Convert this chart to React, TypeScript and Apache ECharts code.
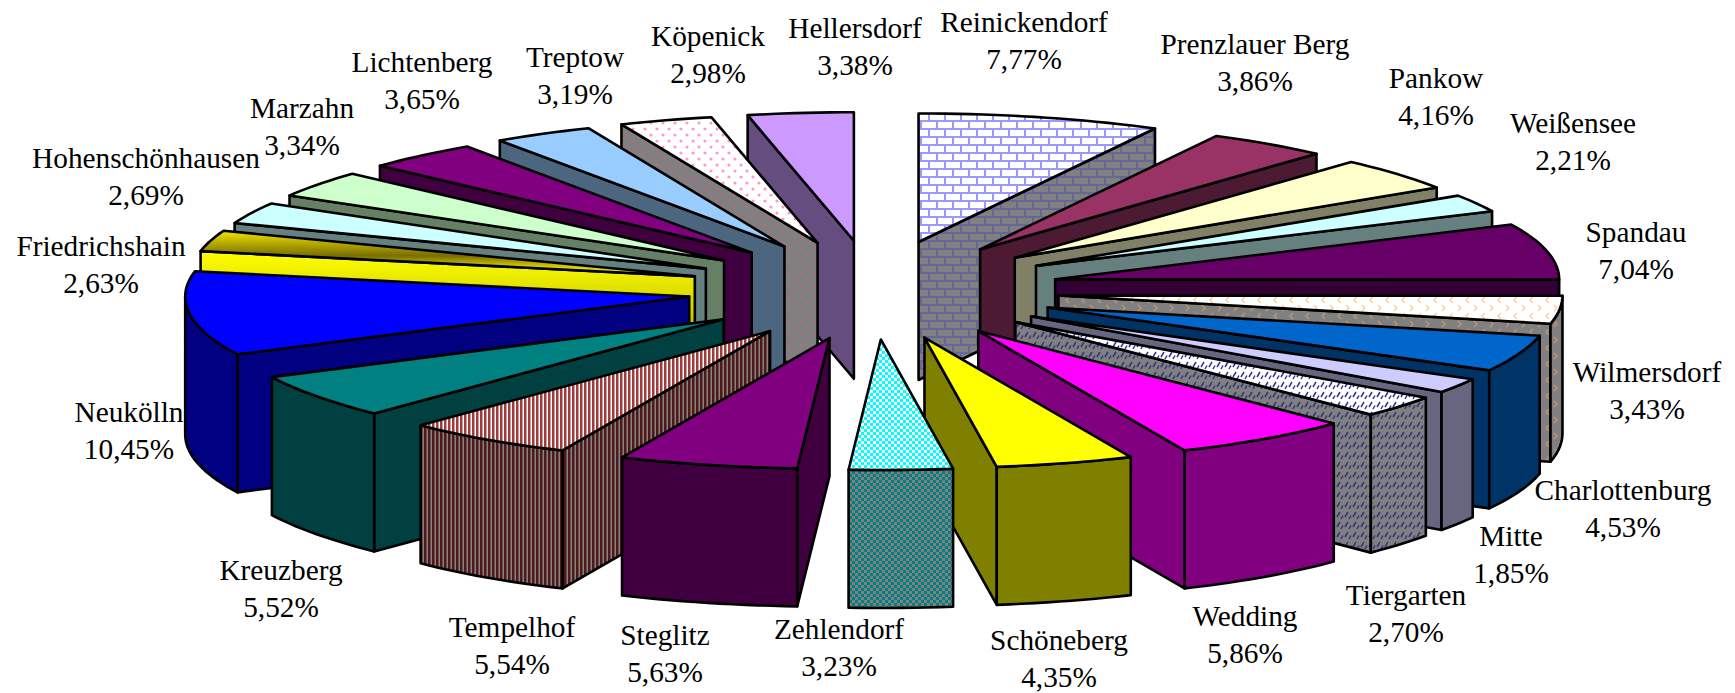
import React, { useEffect, useRef } from "react";
import * as echarts from "echarts";

const categories = [
  "Reinickendorf", "Prenzlauer Berg", "Pankow", "Weißensee", "Spandau", "Wilmersdorf",
  "Charlottenburg", "Mitte", "Tiergarten", "Wedding", "Schöneberg", "Zehlendorf",
  "Steglitz", "Tempelhof", "Kreuzberg", "Neukölln", "Friedrichshain", "Hohenschönhausen",
  "Marzahn", "Lichtenberg", "Treptow", "Köpenick", "Hellersdorf",
];
const shares = [
  7.77, 3.86, 4.16, 2.21, 7.04, 3.43, 4.53, 1.85, 2.7, 5.86, 4.35, 3.23,
  5.63, 5.54, 5.52, 10.45, 2.63, 2.69, 3.34, 3.65, 3.19, 2.98, 3.38,
];
const topFills = [
  "brick", "#993366", "#ffffcc", "#ccffff", "#660066", "chevron", "#0066cc", "#ccccff",
  "dash", "#ff00ff", "#ffff00", "checker", "#800080", "stripe", "#008080", "#0000ff",
  "goldTop", "#ccffff", "#ccffcc", "#800080", "#99ccff", "dots", "#cc99ff",
];
const wallFills = [
  "brickWall", "#4d1a33", "#808066", "#668080", "#330033", "chevronWall", "#003366", "#666680",
  "dashWall", "#800080", "#808000", "checkerWall", "#400040", "stripeWall", "#004040", "#000080",
  "goldWall", "#668080", "#668066", "#400040", "#4d6680", "dotsWall", "#664d80",
];
// label block centres, in page pixels
const labelX = [
  1024, 1255, 1436, 1573, 1636, 1647, 1623, 1511, 1406, 1245, 1059, 839,
  665, 512, 281, 129, 101, 146, 302, 422, 575, 708, 855,
];
const labelY = [
  40, 62, 96, 141, 250, 390, 508, 554, 613, 634, 658, 647,
  653, 645, 588, 430, 264, 176, 126, 80, 75, 54, 46,
];

const CX = 873.6, CY = 290, EX = 186, EY = 49.5, RX = 504, DEPTH = 138;
const RY_BACK = 128.5, RY_FRONT = 130.5, FRONT_SPREAD = 0.025;
const STROKE = 2.6;
const rad = Math.PI / 180;

function tile(w: number, h: number, bg: string, draw: (c: CanvasRenderingContext2D) => void) {
  const cv = document.createElement("canvas");
  cv.width = w;
  cv.height = h;
  const c = cv.getContext("2d")!;
  c.fillStyle = bg;
  c.fillRect(0, 0, w, h);
  draw(c);
  return { image: cv, repeat: "repeat" };
}
function brick(bg: string, fg: string) {
  return tile(16, 16, bg, (c) => {
    c.fillStyle = fg;
    c.fillRect(0, 0, 16, 2);
    c.fillRect(0, 8, 16, 2);
    c.fillRect(0, 0, 2, 8);
    c.fillRect(8, 8, 2, 8);
  });
}
function chevron(bg: string, fg: string) {
  return tile(16, 16, bg, (c) => {
    c.strokeStyle = fg;
    c.lineWidth = 1.4;
    c.beginPath();
    c.moveTo(2, 1); c.lineTo(5, 4); c.lineTo(2, 7);
    c.moveTo(13, 9); c.lineTo(10, 12); c.lineTo(13, 15);
    c.stroke();
  });
}
function dash(bg: string, fg: string) {
  return tile(8, 10, bg, (c) => {
    c.strokeStyle = fg;
    c.lineWidth = 1.5;
    c.beginPath();
    c.moveTo(1, 7); c.lineTo(4, 2);
    c.moveTo(5, 9); c.lineTo(7, 5.5);
    c.stroke();
  });
}
function checker(bg: string, fg: string) {
  return tile(6, 6, bg, (c) => {
    c.fillStyle = fg;
    c.fillRect(0, 0, 3, 3);
    c.fillRect(3, 3, 3, 3);
  });
}
function stripe(bg: string, fg: string) {
  return tile(4, 4, bg, (c) => {
    c.fillStyle = fg;
    c.fillRect(0, 0, 2.5, 4);
  });
}
function dots(bg: string, fg: string) {
  return tile(12, 12, bg, (c) => {
    c.fillStyle = fg;
    c.beginPath();
    c.arc(3, 3, 1.6, 0, 7);
    c.arc(9, 9, 1.6, 0, 7);
    c.fill();
  });
}
function buildFills(): Record<string, any> {
  return {
    brick: brick("#ffffff", "#9999ff"),
    brickWall: brick("#808080", "#666699"),
    chevron: chevron("#ffffff", "#ffcc99"),
    chevronWall: chevron("#808080", "#c09570"),
    dash: dash("#ffffff", "#333399"),
    dashWall: dash("#808080", "#333380"),
    checker: checker("#00ffff", "#ffffff"),
    checkerWall: checker("#008080", "#808080"),
    stripe: stripe("#ffffff", "#a03c3c"),
    stripeWall: stripe("#8a8080", "#4d1a1a"),
    dots: dots("#ffffff", "#ff99cc"),
    dotsWall: dots("#808080", "#b06a8c"),
    goldTop: new echarts.graphic.LinearGradient(0, 0, 0, 1, [
      { offset: 0, color: "#f0e600" },
      { offset: 0.55, color: "#7a6e00" },
      { offset: 0.8, color: "#d8d000" },
      { offset: 1, color: "#ffff00" },
    ]),
    goldWall: new echarts.graphic.LinearGradient(0, 0, 0, 1, [
      { offset: 0, color: "#ffff00" },
      { offset: 1, color: "#808000" },
    ]),
  };
}

export default function App() {
  const ref = useRef<HTMLDivElement>(null);
  useEffect(() => {
    const chart = echarts.init(ref.current!, undefined, { renderer: "svg" });
    const fills = buildFills();
    const fillOf = (k: string) => fills[k] ?? k;
    const total = shares.reduce((s, v) => s + v, 0);

    // slice start / end angles, clockwise from 12 o'clock
    let run = 0;
    const slices = shares.map((v, i) => {
      const a = (run / total) * 360;
      run += v;
      const b = (run / total) * 360;
      return { i, a, b, mid: (a + b) / 2 };
    });
    // painter's order: back slices first
    const order = [...slices].sort((p, q) => Math.cos(q.mid * rad) - Math.cos(p.mid * rad));

    const renderSlice = (_p: any, api: any) => {
      const s = slices[api.value(1)];
      const tipX = CX + EX * Math.sin(s.mid * rad);
      const tipY = CY - EY * Math.cos(s.mid * rad);
      const rim = (t: number) => {
        const c = Math.cos(t * rad);
        const spread = 1 + FRONT_SPREAD * Math.max(0, (-c - 0.7) / 0.3);
        return [tipX + RX * spread * Math.sin(t * rad), tipY - (c > 0 ? RY_BACK : RY_FRONT) * c];
      };
      const arc = (from: number, to: number) => {
        const n = Math.max(2, Math.ceil(Math.abs(to - from) / 1.5));
        const out: number[][] = [];
        for (let k = 0; k <= n; k++) out.push(rim(from + ((to - from) * k) / n));
        return out;
      };
      const down = (pts: number[][]) => pts.map(([x, y]) => [x, y + DEPTH]).reverse();
      const wallStyle = { fill: fillOf(wallFills[s.i]), stroke: "#000", lineWidth: STROKE, lineJoin: "round" };
      const children: any[] = [];
      const poly = (points: number[][], style: any) => children.push({ type: "polygon", shape: { points }, style });
      const radial = (t: number) => {
        const e = [[tipX, tipY], rim(t)];
        poly([...e, ...down(e)], wallStyle);
      };
      if (Math.sin(s.a * rad) < -1e-6) radial(s.a);
      if (Math.sin(s.b * rad) > 1e-6) radial(s.b);
      const wa = Math.max(s.a, 90), wb = Math.min(s.b, 270);
      if (wb - wa > 0.2) {
        const e = arc(wa, wb);
        poly([...e, ...down(e)], wallStyle);
      }
      poly([[tipX, tipY], ...arc(s.a, s.b)], {
        fill: fillOf(topFills[s.i]), stroke: "#000", lineWidth: STROKE, lineJoin: "round",
      });
      return { type: "group", children };
    };

    const renderLabel = (_p: any, api: any) => {
      const i = api.value(1);
      return {
        type: "text",
        style: {
          x: labelX[i],
          y: labelY[i],
          text: `${categories[i]}\n${shares[i].toFixed(2).replace(".", ",")}%`,
          fill: "#000",
          font: '29.3px "Liberation Serif", "Times New Roman", serif',
          lineHeight: 37,
          align: "center",
          verticalAlign: "middle",
        },
      };
    };

    chart.setOption({
      animation: false,
      backgroundColor: "#ffffff",
      series: [
        {
          type: "custom",
          coordinateSystem: "none",
          silent: true,
          z: 2,
          renderItem: renderSlice,
          encode: { value: 0 },
          data: order.map((s) => ({ name: categories[s.i], value: [shares[s.i], s.i] })),
        },
        {
          type: "custom",
          coordinateSystem: "none",
          silent: true,
          z: 3,
          renderItem: renderLabel,
          encode: { value: 0 },
          data: categories.map((n, i) => ({ name: n, value: [shares[i], i] })),
        },
      ],
    });
    return () => chart.dispose();
  }, []);
  return <div ref={ref} style={{ position: "fixed", left: 0, top: 0, width: 1735, height: 693 }} />;
}
